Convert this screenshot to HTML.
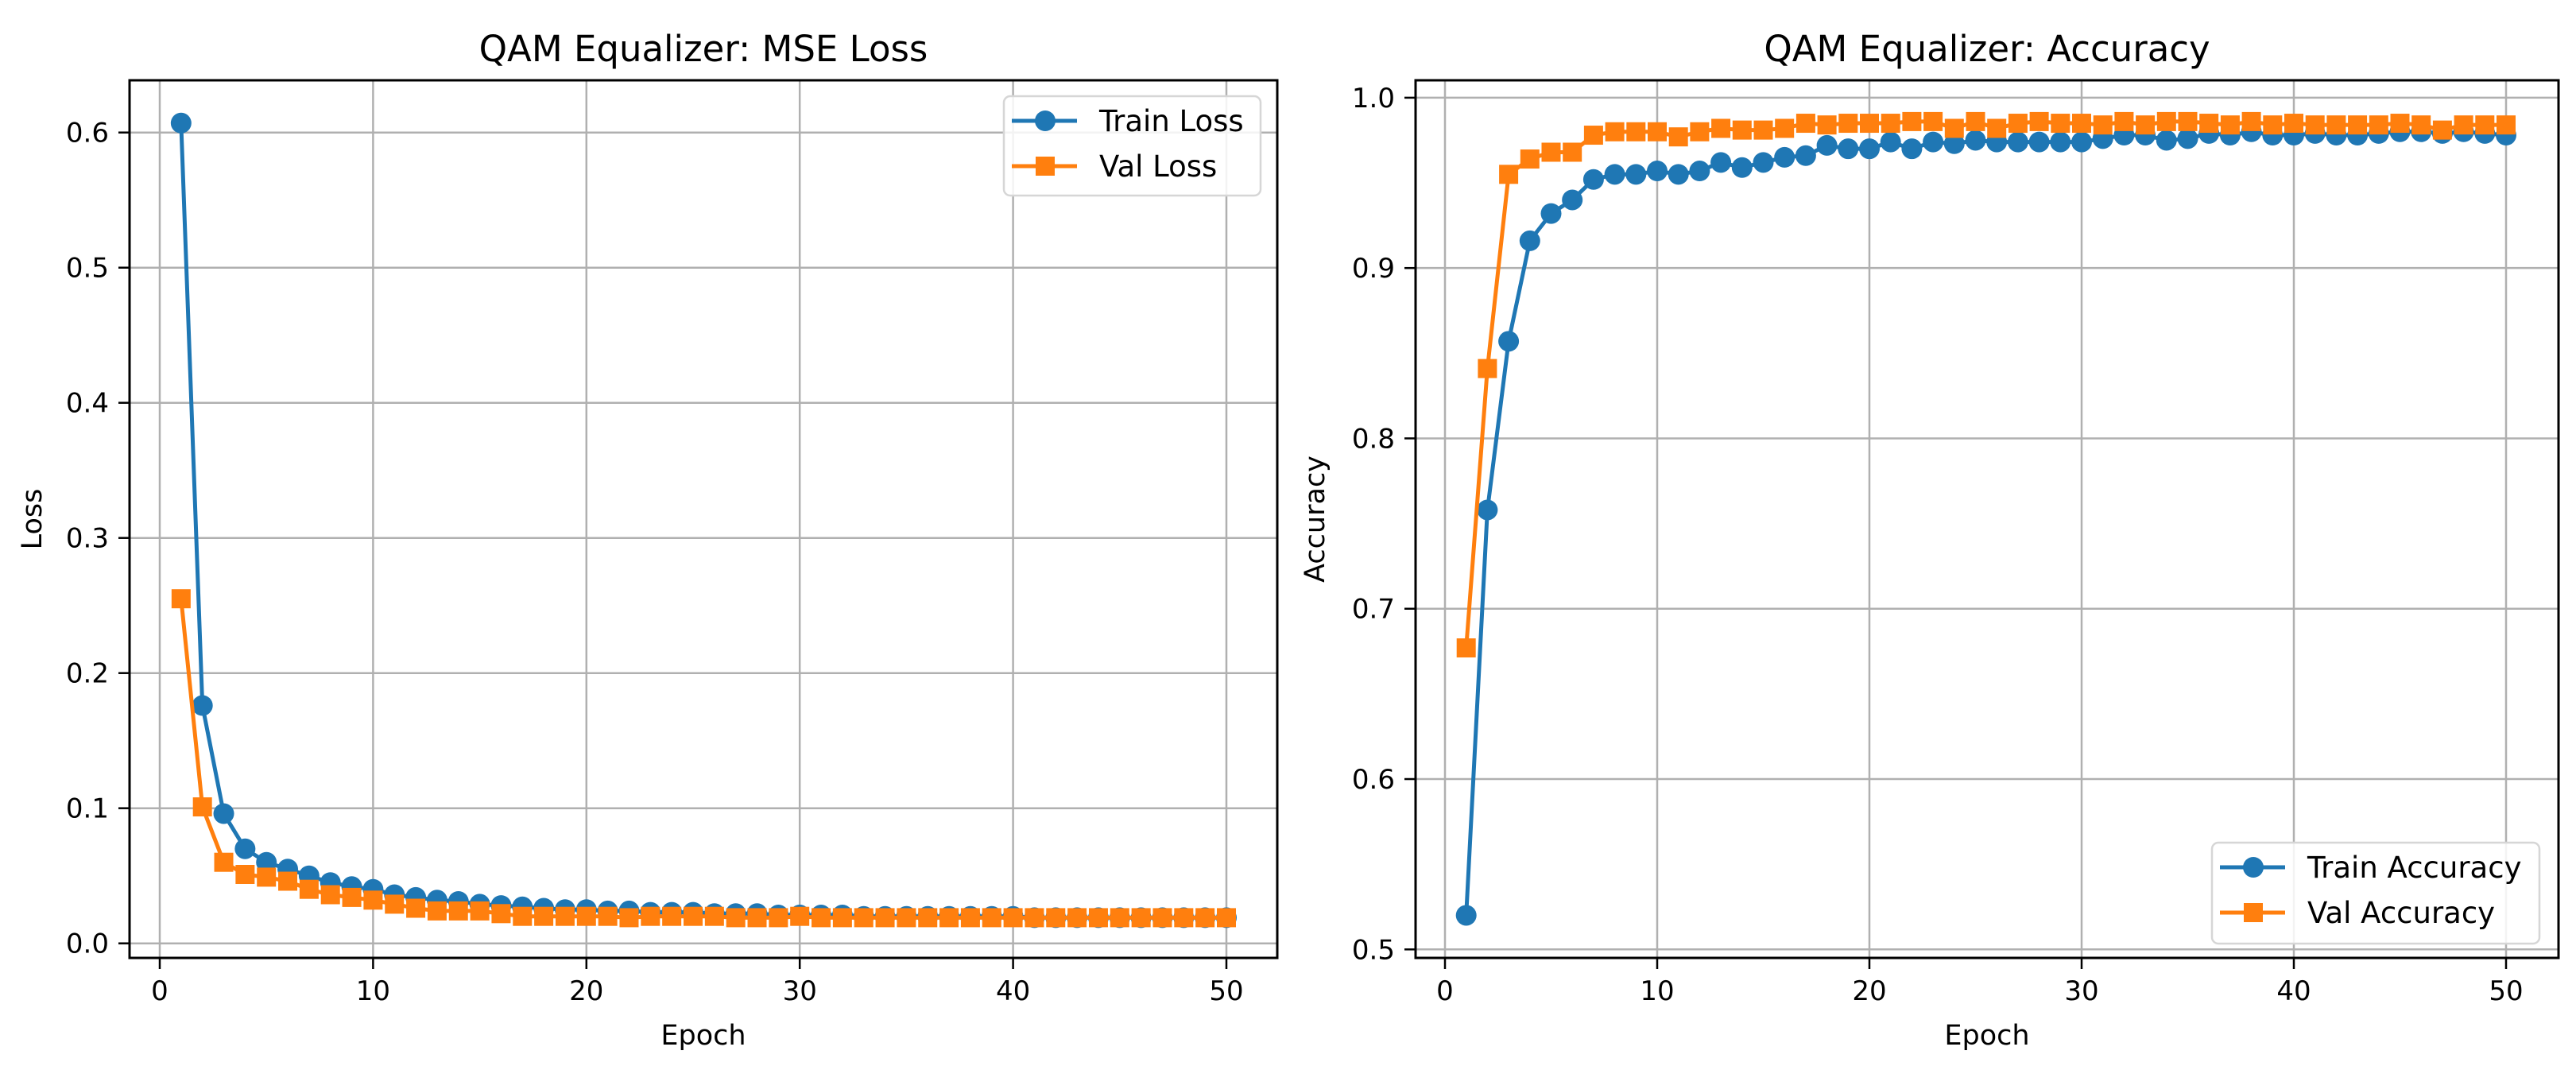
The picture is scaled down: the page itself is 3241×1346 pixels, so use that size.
<!DOCTYPE html>
<html><head><meta charset="utf-8">
<style>
html,body{margin:0;padding:0;background:#fff;overflow:hidden;}
svg{display:block;font-family:"DejaVu Sans","Liberation Sans",sans-serif;}
</style></head>
<body>
<svg id="fig" width="3241" height="1346" viewBox="0 0 3241 1346"></svg>
<script>
const epochs = Array.from({length:50},(_,i)=>i+1);
const trainLoss = [0.607,0.176,0.096,0.070,0.060,0.055,0.050,0.045,0.042,0.040,0.036,0.034,0.032,0.031,0.029,0.028,0.027,0.026,0.025,0.025,0.024,0.024,0.023,0.023,0.023,0.022,0.022,0.022,0.021,0.021,0.021,0.021,0.020,0.020,0.020,0.020,0.020,0.020,0.020,0.020,0.019,0.019,0.019,0.019,0.019,0.019,0.019,0.019,0.019,0.019];
const valLoss = [0.255,0.101,0.060,0.051,0.049,0.046,0.040,0.036,0.034,0.032,0.029,0.026,0.024,0.024,0.024,0.022,0.020,0.020,0.020,0.020,0.020,0.019,0.020,0.020,0.020,0.020,0.019,0.019,0.019,0.020,0.019,0.019,0.019,0.019,0.019,0.019,0.019,0.019,0.019,0.019,0.019,0.019,0.019,0.019,0.019,0.019,0.019,0.019,0.019,0.019];
const trainAcc = [0.520,0.758,0.857,0.916,0.932,0.940,0.952,0.955,0.955,0.957,0.955,0.957,0.962,0.959,0.962,0.965,0.966,0.972,0.970,0.970,0.974,0.970,0.974,0.973,0.975,0.974,0.974,0.974,0.974,0.974,0.976,0.978,0.978,0.975,0.976,0.979,0.978,0.980,0.978,0.978,0.979,0.978,0.978,0.979,0.980,0.980,0.979,0.980,0.979,0.978];
const valAcc = [0.677,0.841,0.955,0.964,0.968,0.968,0.978,0.980,0.980,0.980,0.977,0.980,0.982,0.981,0.981,0.982,0.985,0.984,0.985,0.985,0.985,0.986,0.986,0.982,0.986,0.982,0.985,0.986,0.985,0.985,0.984,0.986,0.984,0.986,0.986,0.985,0.984,0.986,0.984,0.985,0.984,0.984,0.984,0.984,0.985,0.984,0.981,0.984,0.984,0.984];
const xTicks = [0,10,20,30,40,50];
const lossTicks = [0.0,0.1,0.2,0.3,0.4,0.5,0.6];
const accTicks = [0.5,0.6,0.7,0.8,0.9,1.0];

const NS="http://www.w3.org/2000/svg";
const svg=document.getElementById('fig');
function el(tag,attrs,parent){const e=document.createElementNS(NS,tag);for(const k in attrs)e.setAttribute(k,attrs[k]);(parent||svg).appendChild(e);return e;}
const BLUE="#1f77b4",ORANGE="#ff7f0e";

function panel(cfg){
  const g=el('g',{});
  
  
  const {L,R,T,B,x0px,x50px,yA,yApx,yB,yBpx}=cfg;
  const sx=v=>x0px+(x50px-x0px)*v/50;
  const sy=v=>yApx+(yBpx-yApx)*(v-yA)/(yB-yA);
  xTicks.forEach(t=>{
    const l=el('line',{x1:sx(t),x2:sx(t),y1:T,y2:B,stroke:'#b0b0b0','stroke-width':2.5},g);
    
    el('line',{x1:sx(t),x2:sx(t),y1:B,y2:B+14,stroke:'#000','stroke-width':2.5},g);
    const tx=el('text',{x:sx(t),y:B+53,'font-size':34,'text-anchor':'middle',fill:'#000'},g);
    tx.textContent=t;
    
  });
  cfg.yTicks.forEach(t=>{
    const l=el('line',{x1:L,x2:R,y1:sy(t),y2:sy(t),stroke:'#b0b0b0','stroke-width':2.5},g);
    
    el('line',{x1:L-14,x2:L,y1:sy(t),y2:sy(t),stroke:'#000','stroke-width':2.5},g);
    const tx=el('text',{x:L-26,y:sy(t)+12,'font-size':34,'text-anchor':'end',fill:'#000'},g);
    tx.textContent=t.toFixed(1);
    
  });
  cfg.series.forEach(s=>{
    const sg=el('g',{},g);
    
    const pts=epochs.map((e,i)=>sx(e)+','+sy(s.data[i])).join(' ');
    el('polyline',{points:pts,fill:'none',stroke:s.color,'stroke-width':5,'stroke-linejoin':'round'},sg);
    epochs.forEach((e,i)=>{
      let m;
      if(s.marker==='o') m=el('circle',{cx:sx(e),cy:sy(s.data[i]),r:13,fill:s.color},sg);
      else m=el('rect',{x:sx(e)-12,y:sy(s.data[i])-12,width:24,height:24,fill:s.color},sg);
      
      
    });
  });
  const fr=el('rect',{x:L,y:T,width:R-L,height:B-T,fill:'none',stroke:'#000','stroke-width':3},g);
  
  const title=el('text',{x:(L+R)/2,y:77,'font-size':45,'text-anchor':'middle',fill:'#000'},g);
  title.textContent=cfg.title;
  
  const xl=el('text',{x:(L+R)/2,y:1314,'font-size':35,'text-anchor':'middle',fill:'#000'},g);
  xl.textContent='Epoch';
  
  const yl=el('text',{x:0,y:0,'font-size':35,'text-anchor':'middle',fill:'#000',transform:`translate(${cfg.ylx},${(T+B)/2}) rotate(-90)`},g);
  yl.textContent=cfg.ylabel;
  
  const lg=el('g',{},g);
  
  const [lx,ly,lw,lh]=cfg.legend;
  el('rect',{x:lx,y:ly,width:lw,height:lh,rx:8,fill:'#fff','fill-opacity':0.85,stroke:'#d6d6d6','stroke-width':2.5},lg);
  cfg.series.forEach((s,i)=>{
    const cy=ly+31+i*57;
    const en=el('g',{},lg);
    
    el('line',{x1:lx+10,x2:lx+92,y1:cy,y2:cy,stroke:s.color,'stroke-width':5},en);
    if(s.marker==='o') el('circle',{cx:lx+52,cy:cy,r:13,fill:s.color},en);
    else el('rect',{x:lx+40,y:cy-12,width:24,height:24,fill:s.color},en);
    const t=el('text',{x:lx+120,y:cy+13,'font-size':37,fill:'#000'},en);
    t.textContent=s.label;
  });
}
panel({name:'loss-chart',title:'QAM Equalizer: MSE Loss',ylabel:'Loss',ylx:52,
  L:163,R:1607,T:101,B:1205,x0px:201,x50px:1543,yA:0,yApx:1186.7,yB:0.6,yBpx:166.7,
  yTicks:lossTicks,legend:[1263,121,323,125],
  series:[{name:'train-loss-line',label:'Train Loss',data:trainLoss,color:BLUE,marker:'o'},
          {name:'val-loss-line',label:'Val Loss',data:valLoss,color:ORANGE,marker:'s'}]});
panel({name:'accuracy-chart',title:'QAM Equalizer: Accuracy',ylabel:'Accuracy',ylx:1666,
  L:1781,R:3219,T:101,B:1205,x0px:1818,x50px:3153,yA:0.5,yApx:1194.3,yB:1.0,yBpx:122.9,
  yTicks:accTicks,legend:[2783,1060,412,127],
  series:[{name:'train-accuracy-line',label:'Train Accuracy',data:trainAcc,color:BLUE,marker:'o'},
          {name:'val-accuracy-line',label:'Val Accuracy',data:valAcc,color:ORANGE,marker:'s'}]});
</script>
</body></html>
